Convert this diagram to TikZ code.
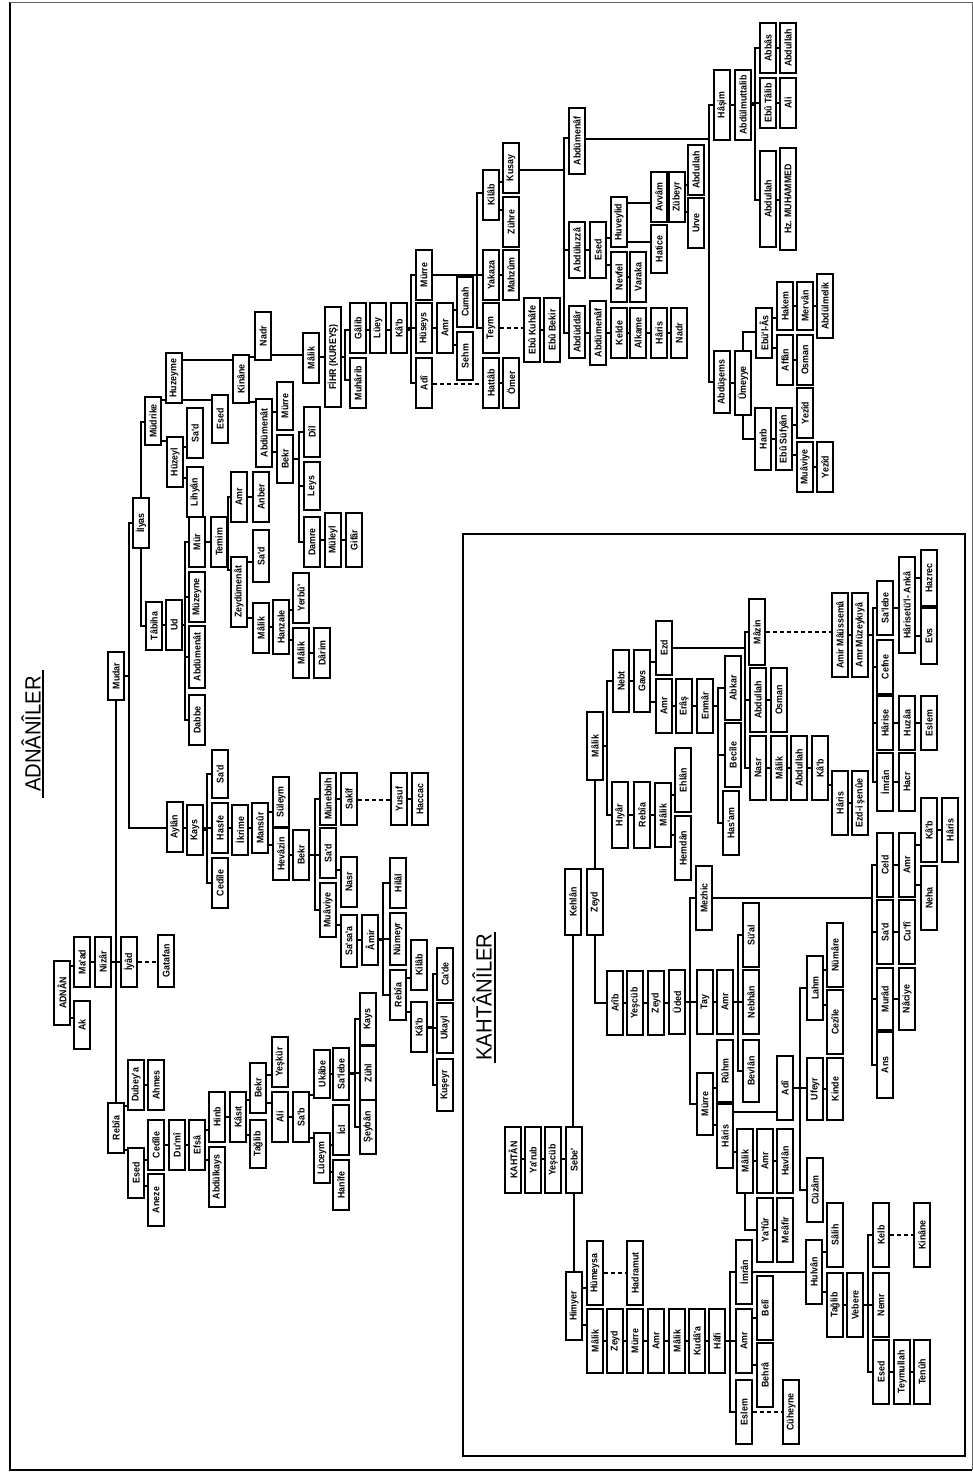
\documentclass[tikz,border=0pt]{standalone}
\usepackage{fontspec}
\usepackage{graphicx}
\setmainfont{Liberation Sans}
\newfontfamily\ttlf{Liberation Sans}[FakeStretch=0.92]
\newfontfamily\bxf{Liberation Sans}[FakeStretch=0.9]
\pgfdeclarelayer{bg}
\pgfsetlayers{bg,main}
\tikzset{
 bx/.style={draw, line width=1.9pt, fill=white, minimum width=16pt, inner sep=0.5pt,
   font=\bxf\bfseries\fontsize{9.8}{10}\selectfont},
 ln/.style={line width=1.35pt},
 dl/.style={line width=1.35pt, dash pattern=on 4pt off 3pt},
 ttl/.style={font=\ttlf\fontsize{22}{24}\selectfont, inner sep=0pt}
}
\newcommand\B[5]{\node[bx, minimum height=2*round(#4/2)*1pt] (#1) at ({round(#2)},{round(#3)}) {\rotatebox{90}{#5}};}
\newcommand\hc[3]{\draw[ln] (#1.east |- 0,#3) -- (#2.west |- 0,#3);}
\newcommand\dc[3]{\draw[dl] (#1.east |- 0,#3) -- (#2.west |- 0,#3);}
\newcommand\ec[5]{\draw[ln] (#1.east |- 0,#2) -- (#3,#2) |- (#4.west |- 0,#5);}
\begin{document}
\begin{tikzpicture}[x=1pt,y=-1pt]
\useasboundingbox (0,0) rectangle (973,1473);
% frames
\draw[line width=2pt] (10,2) -- (10,1470) -- (972,1470);
\draw[line width=1pt, black!60] (10,2) -- (972,2) -- (972,1470);
\draw[line width=1.8pt] (463,534) rectangle (965,1456);
% titles
\node[ttl, rotate=90] (tadn) at (31,734) {ADNÂNÎLER};
\draw[line width=1.2pt] (43,670) -- (43,798);
\node[ttl, rotate=90] (tkah) at (482,997) {KAHTÂNÎLER};
\draw[line width=1.2pt] (495,932) -- (495,1063);
% ---------------- ADNAN
\B{adnan}{61.5}{993}{64}{ADNÂN}
\B{ak}{82}{1025}{47}{Ak}
\B{maad}{82}{962}{50}{Ma'ad}
\B{nizar}{103}{962}{50}{Nizâr}
\B{iyad}{129}{962}{50}{İyâd}
\B{gatafan}{166}{961}{52}{Gatafan}
\B{mudar}{116}{676}{48}{Mudar}
\B{rebia}{116}{1128}{50}{Rebîa}
\B{dubeya}{135.5}{1085}{50}{Dubey'a}
\B{ahmes}{156}{1085}{50}{Ahmes}
\B{esedA}{136}{1173}{50}{Esed}
\B{aneze}{156}{1200}{51}{Aneze}
\B{cedileA}{156}{1145}{50}{Cedîle}
\B{dumi}{176.5}{1145}{50}{Du'mî}
\B{efsa}{197}{1145}{50}{Efsâ}
\B{abdulkays}{217}{1177}{60}{Abdülkays}
\B{hinb}{217}{1117}{49}{Hinb}
\B{kasit}{238}{1117}{49}{Kâsıt}
\B{taglibA}{258}{1144}{48}{Tağlib}
\B{bekrA}{258}{1088}{50}{Bekr}
\B{yeskur}{279.5}{1062}{50}{Yeşkür}
\B{aliA}{280}{1117}{50}{Ali}
\B{sab}{300.5}{1117}{49}{Sa'b}
\B{ukabe}{321.5}{1074}{48}{Ukâbe}
\B{luceym}{321.5}{1158}{50}{Lüceym}
\B{hanife}{341}{1185}{50}{Hanîfe}
\B{icl}{341}{1130}{50}{İcl}
\B{salebeA}{341}{1074}{52}{Sa'lebe}
\B{kaysB}{368}{1019}{52}{Kays}
\B{zuhl}{368}{1073}{53}{Zühl}
\B{seyban}{368}{1127}{53}{Şeybân}
% Kays branch
\B{aylan}{174.5}{827}{50}{Aylân}
\B{kaysA}{195}{830}{50}{Kays}
\B{sadA}{220}{774}{48}{Sa'd}
\B{hasfe}{220}{828}{50}{Hasfe}
\B{cedileB}{220}{883}{50}{Cedîle}
\B{ikrime}{240}{830}{50}{İkrime}
\B{mansur}{260}{828}{50}{Mansûr}
\B{suleym}{280.5}{802}{50}{Süleym}
\B{hevazin}{280.5}{854}{51}{Hevâzin}
\B{bekrB}{300.5}{855}{50}{Bekr}
\B{sadB}{328}{853}{50}{Sa'd}
\B{muaviyeA}{328}{910}{54}{Muâviye}
\B{munebbih}{328}{799}{52}{Münebbih}
\B{sakif}{349}{799}{52}{Sakîf}
\B{nasrA}{349}{882}{50}{Nasr}
\B{sasaa}{349}{941}{52}{Sa'sa'a}
\B{amirA}{369.5}{940}{50}{Âmir}
\B{hilal}{398}{883}{50}{Hilâl}
\B{numeyr}{398}{939}{52}{Nümeyr}
\B{rebiaB}{398}{995}{50}{Rebîa}
\B{kilabA}{418.5}{965}{50}{Kilâb}
\B{kabA}{418.5}{1027}{50}{Kâ'b}
\B{cade}{445}{974}{51}{Ca'de}
\B{ukayl}{445}{1028}{50}{Ukayl}
\B{kuseyr}{445}{1085}{51}{Kuşeyr}
\B{yusuf}{398.5}{799}{52}{Yusuf}
\B{haccac}{419.5}{799}{52}{Haccac}
% Ilyas branch
\B{ilyas}{141}{523}{50}{İlyas}
\B{mudrike}{153}{421}{48}{Müdrike}
\B{tabiha}{154}{626}{48}{Tâbiha}
\B{ud}{174}{625}{50}{Ud}
\B{mur}{197}{542}{50}{Mür}
\B{muzeyne}{197}{597}{50}{Müzeyne}
\B{abdumenatA}{197}{657}{61}{Abdümenât}
\B{dabbe}{197}{720}{50}{Dabbe}
\B{temim}{218.5}{542}{50}{Temim}
\B{amrA}{238.5}{497}{50}{Amr}
\B{anber}{260.5}{497}{50}{Anber}
\B{zeydumenat}{238.5}{592}{69}{Zeydümenât}
\B{sadC}{260.5}{556}{52}{Sa'd}
\B{malikA}{260.5}{628}{50}{Mâlik}
\B{hanzale}{280.5}{627}{53}{Hanzale}
\B{yerbu}{300.5}{598}{50}{Yerbû'}
\B{malikB}{300.5}{653}{50}{Mâlik}
\B{darim}{321.5}{653}{50}{Dârim}
\B{huzeyl}{175}{462}{50}{Hüzeyl}
\B{sadD}{195}{433}{50}{Sa'd}
\B{lihyan}{195}{492}{50}{Lihyân}
\B{huzeyme}{174}{378}{50}{Huzeyme}
\B{esedB}{220}{419}{48}{Esed}
\B{kinaneA}{241}{379}{48}{Kinâne}
\B{nadrA}{263}{336}{48}{Nadr}
\B{malikC}{311}{358}{50}{Mâlik}
\B{abdumenatB}{264}{433}{67}{Abdümenât}
\B{murreA}{285}{406}{48}{Mürre}
\B{bekrC}{285}{459}{48}{Bekr}
\B{dil}{312}{432}{49}{Dîl}
\B{leys}{312}{486}{48}{Leys}
\B{damre}{312}{542}{50}{Damre}
\B{muleyl}{332.5}{540}{53}{Müleyl}
\B{gifar}{353.5}{540}{53}{Gifâr}
% Kureys
\B{fihr}{332.5}{357}{100}{FİHR (KUREYŞ)}
\B{galib}{357.5}{328}{50}{Gâlib}
\B{muharib}{357.5}{383}{49}{Muhârib}
\B{luey}{378}{328}{50}{Lüey}
\B{kabB}{399}{328}{50}{Kâ'b}
\B{murreB}{424}{275}{50}{Mürre}
\B{huseys}{424}{328}{50}{Hüseys}
\B{adiA}{424}{383}{49}{Adî}
\B{amrB}{445}{328}{50}{Amr}
\B{cumah}{465}{302}{49}{Cumah}
\B{sehm}{465}{356}{48}{Sehm}
\B{yakaza}{490.5}{275}{50}{Yakaza}
\B{teym}{490.5}{328}{50}{Teym}
\B{kilabB}{490.5}{195}{50}{Kilâb}
\B{hattab}{490.5}{383}{49}{Hattâb}
\B{omer}{511}{383}{49}{Ömer}
\B{mahzum}{511}{275}{50}{Mahzûm}
\B{zuhre}{511}{222}{50}{Zühre}
\B{kusay}{511}{168}{50}{Kusay}
\B{ebukuhafe}{532}{330}{64}{Ebû Kuhâfe}
\B{ebubekir}{552}{330}{64}{Ebû Bekir}
\B{abdumenafA}{576.5}{141}{65}{Abdümenâf}
\B{abdudar}{576.5}{332}{51}{Abdüddâr}
\B{abduluzza}{576.5}{250}{56}{Abdüluzzâ}
\B{abdumenafB}{597.5}{333}{63}{Abdümenâf}
\B{esedC}{597.5}{250}{55}{Esed}
\B{huveylid}{618.5}{222}{50}{Huveylid}
\B{nevfel}{618.5}{277}{50}{Nevfel}
\B{varaka}{638}{277}{50}{Varaka}
\B{kelde}{618.5}{333}{50}{Kelde}
\B{alkame}{638}{333}{50}{Alkame}
\B{harisA}{658.5}{333}{49}{Hâris}
\B{nadrB}{679}{333}{49}{Nadr}
\B{avvam}{658.5}{197}{50}{Avvâm}
\B{hatice}{658.5}{249}{48}{Hatice}
\B{zubeyr}{677}{197}{50}{Zübeyr}
\B{abdullahA}{696}{170}{50}{Abdullah}
\B{urve}{696}{223}{50}{Urve}
\B{hasim}{722}{105}{70}{Hâşim}
\B{abdulmuttalib}{743}{105}{70}{Abdülmuttalib}
\B{abbas}{768}{48}{50}{Abbâs}
\B{ebutalib}{768}{103}{50}{Ebû Tâlib}
\B{abdullahB}{768}{199}{95}{Abdullah}
\B{abdullahC}{788}{48}{50}{Abdullah}
\B{aliB}{788}{103}{50}{Ali}
\B{muhammed}{788}{199}{102}{Hz. MUHAMMED}
\B{abdusems}{722}{382}{61}{Abdüşems}
\B{umeyye}{743}{383}{63}{Ümeyye}
\B{ebulas}{764}{333}{50}{Ebü'l-Âs}
\B{affan}{784.5}{360}{50}{Affân}
\B{hakem}{784.5}{306}{48}{Hakem}
\B{mervan}{805}{306}{48}{Mervân}
\B{abdulmelik}{825}{306}{63}{Abdülmelik}
\B{osmanA}{805}{360}{50}{Osman}
\B{harb}{763}{439}{62}{Harb}
\B{ebusufyan}{783.5}{439}{62}{Ebû Süfyân}
\B{yezidA}{805}{413}{50}{Yezîd}
\B{muaviyeB}{805}{467}{50}{Muâviye}
\B{yezidB}{825}{467}{50}{Yezîd}
% ---------------- KAHTAN
\B{kahtan}{513}{1159.5}{65}{KAHTÂN}
\B{yarub}{533}{1159.5}{65}{Ya'rub}
\B{yescubA}{553}{1159.5}{65}{Yeşcüb}
\B{sebe}{574}{1159.5}{65}{Sebe'}
\B{himyer}{574}{1306}{67}{Himyer}
\B{humeysa}{595}{1273}{63}{Hümeysa}
\B{hadramut}{635}{1273}{63}{Hadramut}
\B{malikD}{595}{1341}{63}{Mâlik}
\B{zeydA}{615}{1341}{63}{Zeyd}
\B{murreC}{635}{1341}{63}{Mürre}
\B{amrC}{656}{1341}{63}{Amr}
\B{malikE}{676.5}{1341}{63}{Mâlik}
\B{kudaa}{697}{1341}{63}{Kudâ'a}
\B{hafi}{717}{1341}{63}{Hâfi}
\B{amrD}{743.5}{1341}{63}{Amr}
\B{imranA}{743.5}{1272}{63}{İmrân}
\B{eslemA}{743.5}{1412}{63}{Eslem}
\B{beli}{765}{1308}{63}{Belî}
\B{behra}{765}{1375}{63}{Behrâ}
\B{cuheyne}{791}{1412}{63}{Cüheyne}
\B{hulvan}{813.5}{1272}{63}{Hulvân}
\B{salih}{835}{1235}{64}{Sâlih}
\B{taglibB}{835}{1305}{64}{Tağlib}
\B{vebere}{855}{1305}{64}{Vebere}
\B{kelb}{881}{1235}{64}{Kelb}
\B{nemr}{881}{1305}{64}{Nemr}
\B{esedD}{881}{1372}{63}{Esed}
\B{teymullah}{902}{1372}{63}{Teymullah}
\B{tenuh}{922}{1372}{63}{Tenûh}
\B{kinaneB}{922}{1235}{64}{Kinâne}
\B{kehlan}{573}{902}{65}{Kehlân}
\B{zeydB}{595}{902}{65}{Zeyd}
\B{malikF}{595}{746}{67}{Mâlik}
\B{nebt}{621}{681}{62}{Nebt}
\B{gavs}{642}{681}{62}{Gavs}
\B{hyar}{620}{815}{65}{Hıyâr}
\B{rebiaC}{641.5}{815}{65}{Rebîa}
\B{arib}{614.5}{1003}{63}{Arîb}
\B{yescubB}{635}{1003}{63}{Yeşcüb}
\B{zeydC}{656}{1003}{63}{Zeyd}
\B{uded}{676.5}{1002}{63}{Üded}
\B{tay}{704.5}{1002}{63}{Tay}
\B{amrE}{725}{1002}{63}{Amr}
\B{sual}{750.5}{935}{64}{Sü'al}
\B{nebhan}{750.5}{1002}{63}{Nebhân}
\B{bevlan}{750.5}{1071}{62}{Bevlân}
\B{ruhm}{725}{1071}{62}{Rûhm}
\B{murreD}{704.5}{1104}{62}{Mürre}
\B{harisB}{725}{1136}{63}{Hâris}
\B{malikG}{745}{1161}{63}{Mâlik}
\B{amrF}{765}{1161}{63}{Amr}
\B{havlan}{785}{1161}{63}{Havlân}
\B{yafur}{765}{1230}{64}{Ya'fûr}
\B{meafir}{785}{1230}{64}{Meâfir}
\B{cuzam}{815}{1190}{64}{Cüzâm}
\B{adiB}{785}{1088}{63}{Adî}
\B{lahm}{815}{988}{63}{Lahm}
\B{ufeyr}{815}{1089}{62}{Ufeyr}
\B{kinde}{835}{1089}{62}{Kinde}
\B{cezile}{835}{1022}{63}{Cezîle}
\B{numare}{835}{955}{64}{Nümâre}
\B{mezhic}{703.5}{898}{63}{Mezhic}
\B{celd}{885}{865}{64}{Celd}
\B{sadE}{885}{932}{63}{Sa'd}
\B{murad}{885}{999}{62}{Murâd}
\B{ans}{885}{1065}{65}{Ans}
\B{amrG}{906.5}{865}{64}{Amr}
\B{cufi}{906.5}{932}{63}{Cu'fî}
\B{naciye}{906.5}{999}{62}{Nâciye}
\B{kabC}{928.5}{830}{64}{Kâ'b}
\B{neha}{928.5}{898}{63}{Neha}
\B{harisC}{949.5}{830}{64}{Hâris}
\B{ehlan}{683}{780}{64}{Ehlân}
\B{malikH}{663}{815}{64}{Mâlik}
\B{hemdan}{683}{848}{63}{Hemdân}
\B{ezd}{663.5}{648}{53}{Ezd}
\B{amrH}{663.5}{706}{53}{Amr}
\B{eras}{684}{706}{53}{Erâş}
\B{enmar}{705}{706}{53}{Enmâr}
\B{abkar}{732.5}{688}{63}{Abkar}
\B{becile}{732.5}{755}{64}{Becîle}
\B{hasam}{731}{823}{63}{Has'am}
\B{mazin}{757}{632}{65}{Mâzin}
\B{abdullahD}{758}{700}{64}{Abdullah}
\B{osmanB}{778.5}{700}{64}{Osman}
\B{nasrB}{758}{768}{63}{Nasr}
\B{malikI}{779}{768}{63}{Mâlik}
\B{abdullahE}{799}{768}{63}{Abdullah}
\B{kabD}{819.5}{768}{63}{Kâ'b}
\B{harisD}{839.5}{803}{63}{Hâris}
\B{ezdisenue}{860}{803}{63}{Ezd-i şenûe}
\B{amirm}{839.5}{635}{84}{Amir Mâüssemâ}
\B{amrm}{860}{635}{84}{Amr Müzeykıyâ}
\B{salebeB}{885}{608}{53}{Sa'lebe}
\B{cefne}{885}{667}{53}{Cefne}
\B{harise}{885}{723}{53}{Hârise}
\B{imranB}{885}{782}{57}{İmrân}
\B{huzaa}{906.5}{723}{53}{Huzâa}
\B{eslemB}{928.5}{723}{53}{Eslem}
\B{hacr}{906.5}{782}{57}{Hacr}
\B{harisetul}{906.5}{605}{95}{Hârisetü'l- Ankâ}
\B{hazrec}{928.5}{578}{55}{Hazrec}
\B{evs}{928.5}{636}{55}{Evs}
% ================= connectors
\begin{pgfonlayer}{bg}
\hc{adnan}{maad}{966} \hc{adnan}{ak}{1018} \hc{maad}{nizar}{962} \hc{nizar}{iyad}{962}
\dc{iyad}{gatafan}{962}
\draw[ln] (mudar.south) -- (rebia.north);
\hc{rebia}{dubeya}{1106} \hc{dubeya}{ahmes}{1085} \hc{rebia}{esedA}{1150}
\hc{esedA}{cedileA}{1160} \hc{esedA}{aneze}{1186}
\hc{cedileA}{dumi}{1145} \hc{dumi}{efsa}{1145}
\hc{efsa}{hinb}{1130} \hc{efsa}{abdulkays}{1160} \hc{hinb}{kasit}{1117}
\hc{kasit}{bekrA}{1100} \hc{kasit}{taglibA}{1135}
\hc{bekrA}{yeskur}{1075} \hc{bekrA}{aliA}{1103} \hc{aliA}{sab}{1117}
\hc{sab}{ukabe}{1095} \hc{sab}{luceym}{1138} \hc{ukabe}{salebeA}{1074}
\ec{salebeA}{1074}{355}{kaysB}{1019} \hc{salebeA}{zuhl}{1073} \ec{salebeA}{1074}{355}{seyban}{1127}
\hc{luceym}{icl}{1145} \hc{luceym}{hanife}{1172}
% Kays
\ec{mudar}{676}{129}{ilyas}{523} \ec{mudar}{676}{129}{aylan}{828}
\hc{aylan}{kaysA}{828}
\ec{kaysA}{830}{207}{sadA}{774} \hc{kaysA}{hasfe}{828} \ec{kaysA}{830}{207}{cedileB}{883}
\hc{hasfe}{ikrime}{828} \hc{ikrime}{mansur}{828}
\hc{mansur}{suleym}{812} \hc{mansur}{hevazin}{845} \hc{hevazin}{bekrB}{855}
\ec{bekrB}{855}{315}{munebbih}{799} \hc{bekrB}{sadB}{855} \ec{bekrB}{855}{315}{muaviyeA}{910}
\hc{munebbih}{sakif}{799} \hc{sadB}{nasrA}{870} \hc{muaviyeA}{sasaa}{925} \hc{sasaa}{amirA}{940}
\ec{amirA}{940}{383}{hilal}{883} \hc{amirA}{numeyr}{939} \ec{amirA}{940}{383}{rebiaB}{995}
\hc{rebiaB}{kilabA}{978} \hc{rebiaB}{kabA}{1012}
\ec{kabA}{1027}{433}{cade}{974} \hc{kabA}{ukayl}{1028} \ec{kabA}{1027}{433}{kuseyr}{1085}
\dc{sakif}{yusuf}{800} \hc{yusuf}{haccac}{799}
% Ilyas
\draw[ln] (ilyas.north) |- (mudrike.west |- 0,422);
\draw[ln] (ilyas.south) |- (tabiha.west |- 0,626);
\hc{mudrike}{huzeyme}{400} \hc{mudrike}{huzeyl}{441}
\hc{huzeyl}{sadD}{447} \hc{huzeyl}{lihyan}{478}
\hc{huzeyme}{kinaneA}{360} \hc{huzeyme}{esedB}{400}
\hc{kinaneA}{nadrA}{357} \hc{nadrA}{malikC}{355} \hc{kinaneA}{abdumenatB}{402}
\hc{abdumenatB}{murreA}{412} \hc{abdumenatB}{bekrC}{452}
\ec{bekrC}{459}{299}{dil}{432} \ec{bekrC}{459}{299}{leys}{486} \ec{bekrC}{459}{299}{damre}{542}
\hc{damre}{muleyl}{540} \hc{muleyl}{gifar}{540}
\hc{tabiha}{ud}{625}
\ec{ud}{625}{185}{mur}{542} \ec{ud}{625}{185}{muzeyne}{597}
\ec{ud}{625}{185}{abdumenatA}{657} \ec{ud}{625}{185}{dabbe}{720}
\hc{mur}{temim}{542}
\ec{temim}{542}{228}{amrA}{497} \ec{temim}{542}{228}{zeydumenat}{570}
\hc{amrA}{anber}{497} \hc{zeydumenat}{sadC}{562} \hc{zeydumenat}{malikA}{618}
\hc{malikA}{hanzale}{627} \hc{hanzale}{yerbu}{610} \hc{hanzale}{malikB}{640} \hc{malikB}{darim}{653}
% Kureys
\hc{malikC}{fihr}{357}
\ec{fihr}{357}{345}{galib}{330} \ec{fihr}{357}{345}{muharib}{380}
\hc{galib}{luey}{330} \hc{luey}{kabB}{330}
\ec{kabB}{330}{411}{murreB}{275} \hc{kabB}{huseys}{328} \ec{kabB}{330}{411}{adiA}{383}
\hc{huseys}{amrB}{328} \hc{amrB}{cumah}{310} \hc{amrB}{sehm}{345}
\dc{adiA}{hattab}{384} \hc{hattab}{omer}{383}
\ec{murreB}{275}{477}{kilabB}{193} \hc{murreB}{yakaza}{275} \ec{murreB}{275}{477}{teym}{328}
\dc{teym}{ebukuhafe}{328} \hc{ebukuhafe}{ebubekir}{330}
\hc{yakaza}{mahzum}{275} \hc{kilabB}{kusay}{182} \hc{kilabB}{zuhre}{210}
\ec{kusay}{170}{564}{abdumenafA}{138} \ec{kusay}{170}{564}{abduluzza}{250} \ec{kusay}{170}{564}{abdudar}{333}
\hc{abdudar}{abdumenafB}{333} \hc{abdumenafB}{kelde}{333} \hc{kelde}{alkame}{333}
\hc{alkame}{harisA}{333} \hc{harisA}{nadrB}{333}
\hc{abduluzza}{esedC}{250} \hc{esedC}{huveylid}{238} \hc{esedC}{nevfel}{265} \hc{nevfel}{varaka}{277}
\hc{huveylid}{avvam}{203} \hc{huveylid}{hatice}{242} \hc{avvam}{zubeyr}{197}
\hc{zubeyr}{abdullahA}{185} \hc{zubeyr}{urve}{212}
\ec{abdumenafA}{139}{709}{hasim}{105} \ec{abdumenafA}{139}{709}{abdusems}{382}
\hc{hasim}{abdulmuttalib}{105}
\ec{abdulmuttalib}{105}{755}{abbas}{48} \hc{abdulmuttalib}{ebutalib}{103} \ec{abdulmuttalib}{105}{755}{abdullahB}{200}
\hc{abbas}{abdullahC}{48} \hc{ebutalib}{aliB}{103} \hc{abdullahB}{muhammed}{200}
\hc{abdusems}{umeyye}{383}
\draw[ln] (umeyye.north) |- (ebulas.west |- 0,332);
\draw[ln] (umeyye.south) |- (harb.west |- 0,439);
\hc{ebulas}{hakem}{318} \hc{ebulas}{affan}{348}
\hc{hakem}{mervan}{306} \hc{mervan}{abdulmelik}{306} \hc{affan}{osmanA}{360}
\hc{harb}{ebusufyan}{439} \hc{ebusufyan}{yezidA}{425} \hc{ebusufyan}{muaviyeB}{455} \hc{muaviyeB}{yezidB}{467}
% Kahtan
\hc{kahtan}{yarub}{1159} \hc{yarub}{yescubA}{1159} \hc{yescubA}{sebe}{1159}
\draw[ln] (kehlan.south) -- (kehlan.south |- sebe.north);
\draw[ln] (sebe.south) -- (himyer.north);
\hc{himyer}{humeysa}{1288} \dc{humeysa}{hadramut}{1273} \hc{himyer}{malikD}{1325}
\hc{malikD}{zeydA}{1341} \hc{zeydA}{murreC}{1341} \hc{murreC}{amrC}{1341}
\hc{amrC}{malikE}{1341} \hc{malikE}{kudaa}{1341} \hc{kudaa}{hafi}{1341}
\ec{hafi}{1341}{730}{imranA}{1272} \hc{hafi}{amrD}{1341} \ec{hafi}{1341}{730}{eslemA}{1412}
\hc{imranA}{hulvan}{1272} \hc{amrD}{beli}{1318} \hc{amrD}{behra}{1365} \dc{eslemA}{cuheyne}{1412}
\hc{hulvan}{salih}{1252} \hc{hulvan}{taglibB}{1292} \hc{taglibB}{vebere}{1305}
\ec{vebere}{1305}{868}{kelb}{1235} \hc{vebere}{nemr}{1305} \ec{vebere}{1305}{868}{esedD}{1372}
\dc{kelb}{kinaneB}{1235} \hc{esedD}{teymullah}{1372} \hc{teymullah}{tenuh}{1372}
\draw[ln] (malikF.south) -- (zeydB.north);
\draw[ln] (zeydB.south) |- (arib.west |- 0,1003);
\ec{malikF}{746}{607}{nebt}{681} \ec{malikF}{746}{607}{hyar}{815}
\hc{nebt}{gavs}{681} \hc{gavs}{ezd}{662} \hc{gavs}{amrH}{702}
\hc{hyar}{rebiaC}{815} \hc{rebiaC}{malikH}{815} \hc{malikH}{ehlan}{795} \hc{malikH}{hemdan}{835}
\hc{amrH}{eras}{706} \hc{eras}{enmar}{706}
\ec{enmar}{706}{718}{abkar}{688} \ec{enmar}{706}{718}{becile}{755} \ec{enmar}{706}{718}{hasam}{823}
\ec{ezd}{648}{745}{mazin}{632} \ec{ezd}{648}{745}{abdullahD}{700} \ec{ezd}{648}{745}{nasrB}{768}
\hc{abdullahD}{osmanB}{700}
\hc{nasrB}{malikI}{768} \hc{malikI}{abdullahE}{768} \hc{abdullahE}{kabD}{768}
\hc{kabD}{harisD}{785} \hc{harisD}{ezdisenue}{803}
\dc{mazin}{amirm}{632} \hc{amirm}{amrm}{635}
\ec{amrm}{635}{873}{salebeB}{608} \ec{amrm}{635}{873}{cefne}{667}
\ec{amrm}{635}{873}{harise}{723} \ec{amrm}{635}{873}{imranB}{782}
\hc{salebeB}{harisetul}{608} \hc{harisetul}{hazrec}{578} \hc{harisetul}{evs}{636}
\hc{harise}{huzaa}{723} \hc{huzaa}{eslemB}{723} \hc{imranB}{hacr}{782}
\hc{arib}{yescubB}{1003} \hc{yescubB}{zeydC}{1003} \hc{zeydC}{uded}{1003}
\ec{uded}{1002}{690}{mezhic}{898} \hc{uded}{tay}{1002} \ec{uded}{1002}{690}{murreD}{1104}
\hc{tay}{amrE}{1002}
\ec{amrE}{1002}{738}{sual}{935} \hc{amrE}{nebhan}{1002} \ec{amrE}{1002}{738}{bevlan}{1071}
\hc{murreD}{ruhm}{1088} \hc{murreD}{harisB}{1125}
\hc{harisB}{adiB}{1112} \hc{harisB}{malikG}{1152}
\hc{malikG}{amrF}{1161} \hc{amrF}{havlan}{1161}
\draw[ln] (malikG.south) |- (yafur.west |- 0,1230);
\hc{yafur}{meafir}{1230}
\ec{adiB}{1088}{800}{lahm}{988} \hc{adiB}{ufeyr}{1088} \ec{adiB}{1088}{800}{cuzam}{1190}
\hc{lahm}{numare}{970} \hc{lahm}{cezile}{1005} \hc{ufeyr}{kinde}{1089}
\ec{mezhic}{898}{872}{celd}{865} \ec{mezhic}{898}{872}{sadE}{932}
\ec{mezhic}{898}{872}{murad}{999} \ec{mezhic}{898}{872}{ans}{1065}
\hc{celd}{amrG}{865} \hc{amrG}{kabC}{845} \hc{amrG}{neha}{885} \hc{kabC}{harisC}{830}
\hc{sadE}{cufi}{932} \hc{murad}{naciye}{999}
\end{pgfonlayer}
\end{tikzpicture}
\end{document}
